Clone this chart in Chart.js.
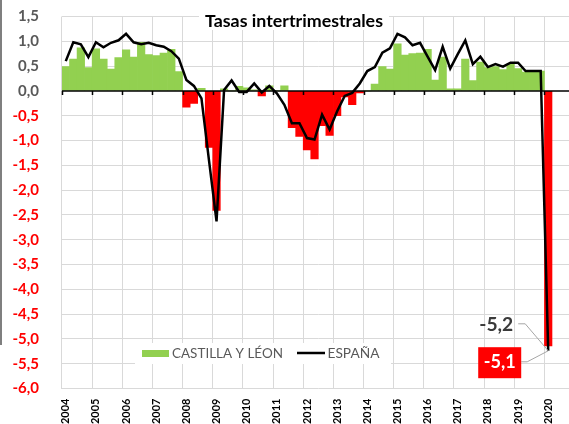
<!DOCTYPE html>
<html>
<head>
<meta charset="utf-8">
<script src="https://cdn.jsdelivr.net/npm/chart.js@4.4.0/dist/chart.umd.min.js"></script>
<style>
  html, body { margin: 0; padding: 0; background: #fff; overflow: hidden; }
  #wrap { position: relative; width: 569px; height: 424px; overflow: hidden; }
  #wrap canvas { position: absolute; left: 0; top: 0; }
  #edge { position: absolute; left: 0; top: 0; width: 2px; height: 345px; background: #7f7f7f; }
</style>
</head>
<body>
<div id="wrap">
  <canvas id="chart" width="580" height="424"></canvas>
  <div id="edge"></div>
</div>
<script>
// quarterly rates, 2004 I .. 2020 I
const years = ['2004','2005','2006','2007','2008','2009','2010','2011','2012',
               '2013','2014','2015','2016','2017','2018','2019','2020'];
const quarters = ['I','II','III','IV'];

const castilla = [
  0.49, 0.64, 0.87, 0.47,   // 2004
  0.85, 0.64, 0.44, 0.67,   // 2005
  0.83, 0.68, 0.98, 0.73,   // 2006
  0.71, 0.76, 0.84, 0.39,   // 2007
  -0.33, -0.25, 0.05, -1.14, // 2008
  -2.41, 0.04, 0.0, 0.09,   // 2009
  0.06, 0.02, -0.10, 0.10,  // 2010
  0.0, 0.10, -0.74, -0.92,  // 2011
  -1.19, -1.37, -0.70, -0.90, // 2012
  -0.50, -0.12, -0.28, -0.04, // 2013
  0.0, 0.14, 0.49, 0.44,    // 2014
  0.95, 0.72, 0.75, 0.76,   // 2015
  0.84, 0.22, 0.68, 0.04,   // 2016
  0.04, 0.64, 0.21, 0.58,   // 2017
  0.47, 0.49, 0.43, 0.54,   // 2018
  0.45, 0.38, 0.40, 0.40,   // 2019
  -5.14                     // 2020
];

const espana = [
  0.60, 0.98, 0.94, 0.68,
  0.98, 0.88, 0.97, 1.02,
  1.15, 0.98, 0.94, 0.97,
  0.92, 0.89, 0.80, 0.65,
  0.22, 0.10, -0.15, -1.40,
  -2.63, 0.02, 0.21, -0.02,
  -0.02, 0.15, -0.03, 0.10,
  -0.05, -0.28, -0.65, -0.65,
  -0.95, -0.98, -0.48, -0.78,
  -0.41, -0.10, -0.04, 0.15,
  0.40, 0.48, 0.77, 0.86,
  1.15, 1.08, 0.92, 0.97,
  0.69, 0.42, 0.89, 0.45,
  0.74, 1.02, 0.54, 0.69,
  0.48, 0.54, 0.49, 0.57,
  0.57, 0.40, 0.40, 0.40,
  -5.24
];

const chartTitle = 'Tasas intertrimestrales';
const seriesNames = ['CASTILLA Y LÉON', 'ESPAÑA'];

const labels = [];
years.forEach(y => quarters.forEach(q => labels.push(y + ' ' + q)));

const GREEN = '#92d050', RED = '#ff0000';
const FONT = 'Lato, "Open Sans", sans-serif';
const fmt = v => v.toFixed(1).replace('.', ',');

// font size so that text fills a given width
function fitFont(ctx, text, weight, width) {
  ctx.font = weight + ' 20px ' + FONT;
  const w = ctx.measureText(text).width;
  return weight + ' ' + (20 * width / w).toFixed(2) + 'px ' + FONT;
}

const overlay = {
  id: 'overlay',
  beforeDatasetDraw(chart, args) {
    if (args.index !== 0) return;
    // zero axis over the bars, under the line
    const ctx = chart.ctx, a = chart.chartArea;
    const y0 = chart.scales.y.getPixelForValue(0);
    const xs = chart.scales.x;
    ctx.save();
    ctx.strokeStyle = '#000';
    ctx.lineWidth = 1.5;
    ctx.beginPath();
    ctx.moveTo(a.left, y0); ctx.lineTo(a.right, y0);
    const step = xs.getPixelForTick(1) - xs.getPixelForTick(0);
    for (let i = 0; i < labels.length; i += 4) {
      const x = Math.round(xs.getPixelForTick(i) - step / 2) + 0.5;
      ctx.moveTo(x, y0); ctx.lineTo(x, y0 + 4);
    }
    ctx.stroke();
    ctx.restore();
  },
  afterDraw(chart) {
    const ctx = chart.ctx;
    ctx.save();

    // title over the plot
    ctx.fillStyle = '#fff';
    ctx.fillRect(199, 5, 190, 25);
    ctx.font = fitFont(ctx, chartTitle, 'bold', 178);
    ctx.fillStyle = '#000';
    ctx.textBaseline = 'alphabetic';
    ctx.textAlign = 'left';
    ctx.fillText(chartTitle, 205, 26.7);

    // legend
    ctx.fillStyle = '#fff';
    ctx.fillRect(135, 343, 256, 21);
    ctx.fillStyle = GREEN;
    ctx.fillRect(142, 350, 27, 7);
    ctx.fillStyle = '#595959';
    ctx.font = fitFont(ctx, seriesNames[0], 'normal', 111);
    ctx.fillText(seriesNames[0], 172, 358.3);
    ctx.strokeStyle = '#000';
    ctx.lineWidth = 2.5;
    ctx.beginPath(); ctx.moveTo(297, 353); ctx.lineTo(325, 353); ctx.stroke();
    ctx.font = fitFont(ctx, seriesNames[1], 'normal', 52);
    ctx.fillText(seriesNames[1], 327.5, 358.3);

    // labels of the last quarter
    const last = espana.length - 1;
    const p = chart.getDatasetMeta(0).data[last];
    ctx.strokeStyle = '#a6a6a6';
    ctx.lineWidth = 1;
    ctx.beginPath();
    ctx.moveTo(p.x - 30, p.y - 27); ctx.lineTo(p.x - 23, p.y - 27); ctx.lineTo(p.x, p.y);
    ctx.moveTo(p.x - 27, p.y + 11); ctx.lineTo(p.x - 21, p.y + 11); ctx.lineTo(p.x, p.y);
    ctx.stroke();

    const t1 = fmt(espana[last]);
    ctx.font = fitFont(ctx, t1, 'bold', 34);
    ctx.fillStyle = '#3a3a3a';
    ctx.textAlign = 'right';
    ctx.fillText(t1, p.x - 35, p.y - 19.6);

    ctx.fillStyle = RED;
    ctx.fillRect(p.x - 70, p.y - 3.6, 43, 31);
    const t2 = fmt(castilla[last]);
    ctx.font = fitFont(ctx, t2, 'bold', 32);
    ctx.fillStyle = '#fff';
    ctx.textAlign = 'center';
    ctx.fillText(t2, p.x - 48.5, p.y + 17.4);
    ctx.restore();
  }
};

new Chart(document.getElementById('chart'), {
  type: 'bar',
  data: {
    labels: labels,
    datasets: [
      {
        type: 'line',
        label: seriesNames[1],
        data: espana,
        borderColor: '#000',
        borderWidth: 2.5,
        pointRadius: 0,
        tension: 0,
        fill: false
      },
      {
        type: 'bar',
        label: seriesNames[0],
        data: castilla,
        backgroundColor: ctx => (ctx.raw < 0 ? RED : GREEN),
        borderWidth: 0,
        barPercentage: 1,
        categoryPercentage: 1
      }
    ]
  },
  options: {
    responsive: false,
    animation: false,
    events: [],
    layout: { padding: { top: 16.5, right: 5.4, left: 0, bottom: 0 } },
    plugins: { legend: { display: false }, title: { display: false }, tooltip: { enabled: false } },
    scales: {
      x: {
        offset: true,
        grid: {
          offset: true,
          drawTicks: false,
          color: ctx => (ctx.index % 4 === 0 ? '#d9d9d9' : 'rgba(0,0,0,0)'),
          lineWidth: 1
        },
        border: { display: false },
        ticks: {
          autoSkip: false,
          minRotation: 90,
          maxRotation: 90,
          padding: 10,
          color: '#000',
          font: { family: FONT, size: 11, weight: 'bold' },
          callback: (v, i) => (i % 4 === 0 ? years[i / 4] : '')
        },
        afterFit: s => { s.height = 35.5; s.paddingLeft = 0; s.paddingRight = 0; }
      },
      y: {
        min: -6,
        max: 1.5,
        grid: {
          drawTicks: false,
          color: ctx => (ctx.tick && ctx.tick.value === 0 ? 'rgba(0,0,0,0)' : '#d9d9d9'),
          lineWidth: 1
        },
        border: { display: false },
        ticks: {
          stepSize: 0.5,
          padding: 23,
          color: ctx => (ctx.tick.value < 0 ? RED : '#595959'),
          font: { family: FONT, size: 15, weight: 'bold' },
          callback: v => fmt(v)
        },
        afterFit: s => { s.width = 62; s.paddingTop = 0; s.paddingBottom = 0; }
      }
    }
  },
  plugins: [overlay]
});
</script>
</body>
</html>
